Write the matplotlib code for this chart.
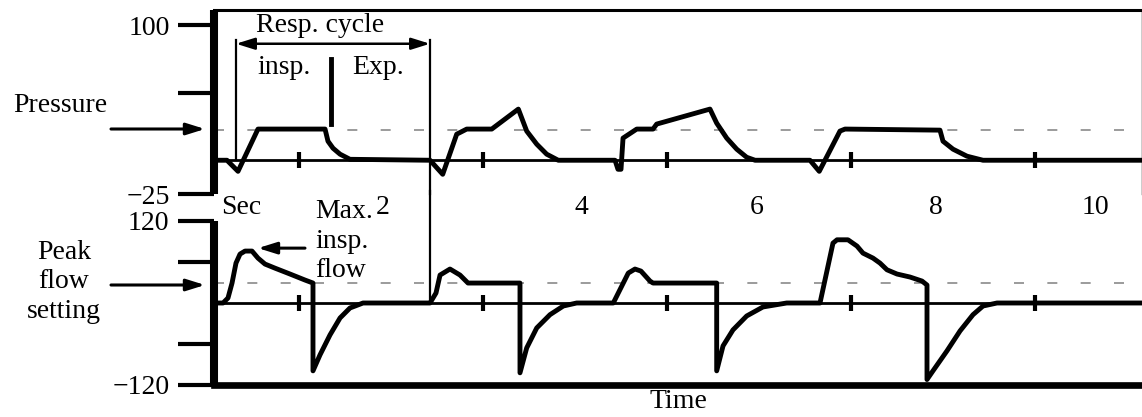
import matplotlib.pyplot as plt

plt.rcParams['font.family'] = ['Liberation Serif', 'DejaVu Serif']
plt.rcParams['font.size'] = 20

# airway pressure trace (time in s)
p_time = [0.076, 0.217, 0.337, 0.554, 1.283, 1.315, 1.370, 1.446, 1.554, 2.424,
          2.562, 2.714, 2.823, 3.095, 3.384, 3.475, 3.584, 3.692, 3.818, 4.435,
          4.467, 4.500, 4.522, 4.671, 4.848, 4.888, 5.467, 5.540, 5.649, 5.758,
          5.866, 5.957, 6.554, 6.655, 6.880, 6.935, 7.967, 8.000, 8.109, 8.261,
          8.435, 10.163]
p_val = [0, 0, -8.2, 23.1, 23.1, 14.1, 8.9, 4.5, 0.7, 0,
         -10.4, 19.3, 23.1, 23.1, 37.9, 21.6, 11.9, 4.5, 0, 0,
         -6.7, -6.7, 16.4, 23.1, 23.1, 26.8, 37.9, 27.5, 16.4, 8.2,
         2.2, 0, 0, -8.2, 21.6, 23.1, 22.3, 14.1, 8.2, 3.0,
         0, 0]

# flow trace
f_time = [0.076, 0.174, 0.228, 0.272, 0.315, 0.359, 0.413, 0.489, 0.554, 0.630,
          0.739, 0.902, 1.065, 1.152, 1.152, 1.228, 1.337, 1.446, 1.554, 1.696,
          2.424, 2.489, 2.533, 2.641, 2.750, 2.837, 3.402, 3.402, 3.475, 3.584,
          3.728, 3.873, 4.018, 4.416, 4.579, 4.652, 4.717, 4.815, 4.848, 5.540,
          5.540, 5.609, 5.717, 5.866, 6.043, 6.301, 6.663, 6.804, 6.848, 6.967,
          7.065, 7.130, 7.239, 7.315, 7.391, 7.500, 7.641, 7.772, 7.826, 7.826,
          7.891, 8.043, 8.185, 8.326, 8.435, 8.587, 10.163]
f_val = [0, 0, 7.3, 29.2, 58.4, 71.6, 76.0, 76.0, 65.7, 57.0,
         51.0, 42.4, 33.6, 29.2, -99.3, -76.0, -46.7, -21.9, -7.3, 0,
         0, 14.6, 40.9, 49.7, 40.9, 29.2, 29.2, -102.2, -65.7, -36.5,
         -17.1, -4.4, 0, 0, 43.8, 49.7, 46.7, 32.1, 29.2, 29.2,
         -99.3, -62.8, -39.4, -19.0, -5.8, 0, 0, 87.6, 92.5, 92.5,
         83.3, 73.0, 65.7, 58.4, 48.6, 42.4, 38.0, 32.1, 26.3, -112.0,
         -99.3, -70.1, -40.9, -17.1, -4.4, 0, 0]

p_ticks = [-25, 50, 100]
p_ticklabels = ['\u221225', '', '100']
f_ticks = [-120, -60, 60, 120]
f_ticklabels = ['\u2212120', '', '', '120']
sec_marks = [1, 3, 5, 7, 9]
time_pos = [0.37, 1.91, 4.07, 5.97, 7.92, 9.66]
time_labels = ['Sec', '2', '4', '6', '8', '10']
p_setting = 22.3
f_setting = 29.2
cycle_start = 0.315
cycle_end = 2.424
insp_end = 1.35

W, H = 1142, 417


def fig_xy(x, y):
    # pixel position from top-left -> figure fraction
    return x / W, 1 - y / H


fig = plt.figure(figsize=(W / 100, H / 100), dpi=100)
ax_p = fig.add_axes([214 / W, 1 - 194 / H, (W - 214) / W, 184 / H])
ax_f = fig.add_axes([214 / W, 1 - 385 / H, (W - 214) / W, 164 / H])

for ax, ticks, labels, ylim in [(ax_p, p_ticks, p_ticklabels, (-25, 111.3)),
                                (ax_f, f_ticks, f_ticklabels, (-120, 120))]:
    ax.set_xlim(0.076, 10.163)
    ax.set_ylim(*ylim)
    ax.set_yticks(ticks)
    ax.set_yticklabels(labels)
    ax.tick_params(axis='y', direction='out', length=26, width=3, pad=6)
    ax.spines['left'].set_linewidth(5.8)
    ax.spines['left'].set_capstyle('butt')
    ax.spines['right'].set_visible(False)
    ax.axhline(0, color='k', lw=2, zorder=2)
    ax.plot(sec_marks, [0] * len(sec_marks), ls='none', marker='|',
            ms=11, mew=3, color='k', zorder=3)

ax_p.spines['bottom'].set_visible(False)
ax_p.spines['top'].set_linewidth(2.2)
ax_p.spines['right'].set_visible(True)
ax_p.spines['right'].set_linewidth(1)
ax_f.spines['top'].set_visible(False)
ax_f.spines['bottom'].set_linewidth(4.8)

ax_p.set_xticks(time_pos)
ax_p.set_xticklabels(time_labels)
ax_p.tick_params(axis='x', length=0, pad=1)
ax_f.set_xticks([])
ax_f.set_xlabel('Time', labelpad=3)

dash = dict(color='#8a8a8a', lw=1.2, dashes=(6, 14), zorder=1)
ax_p.axhline(p_setting, **dash)
ax_f.axhline(f_setting, **dash)

ax_p.plot(p_time, p_val, color='k', lw=3.5, solid_joinstyle='round', zorder=4)
ax_f.plot(f_time, f_val, color='k', lw=3.5, solid_joinstyle='round', zorder=4)

# respiratory cycle markers
ax_p.plot([cycle_start, cycle_start], [0, 89.3], color='k', lw=1.6)
ax_p.plot([cycle_end, cycle_end], [-25, 89.3], color='k', lw=1.6, clip_on=False)
ax_f.plot([cycle_end, cycle_end], [0, 164], color='k', lw=1.6, clip_on=False)
ax_p.plot([insp_end, insp_end], [26.8, 75.1], color='k', lw=3.5)
ax_p.annotate('', xy=(cycle_start, 86.3), xytext=(cycle_end, 86.3),
              arrowprops=dict(arrowstyle='<|-|>,head_length=0.8,head_width=0.25',
                              color='k', lw=1.8, shrinkA=0, shrinkB=0,
                              mutation_scale=14))
ax_p.text(1.23, 99.7, 'Resp. cycle', ha='center', va='center')
ax_p.text(0.84, 68.5, 'insp.', ha='center', va='center')
ax_p.text(1.86, 68.5, 'Exp.', ha='center', va='center')

# left side labels
fig.text(*fig_xy(60, 106), 'Pressure', ha='center', va='center')
fig.text(*fig_xy(64, 282), 'Peak\nflow\nsetting', ha='center', va='center',
         linespacing=1.25)
arrow = dict(arrowstyle='-|>,head_length=0.8,head_width=0.25', color='k',
             lw=2.2, shrinkA=0, shrinkB=0, mutation_scale=14)
fig.add_artist(plt.Annotation('', xy=fig_xy(205, 129), xytext=fig_xy(111, 129),
                              xycoords='figure fraction', arrowprops=arrow))
fig.add_artist(plt.Annotation('', xy=fig_xy(205, 285), xytext=fig_xy(111, 285),
                              xycoords='figure fraction', arrowprops=arrow))

ax_f.text(1.174, 90.6, 'Max.\ninsp.\nflow', ha='left', va='center',
          linespacing=1.25)
ax_f.annotate('', xy=(0.554, 80.3), xytext=(1.065, 80.3), arrowprops=arrow)

fig.savefig('out.png', dpi=100)
